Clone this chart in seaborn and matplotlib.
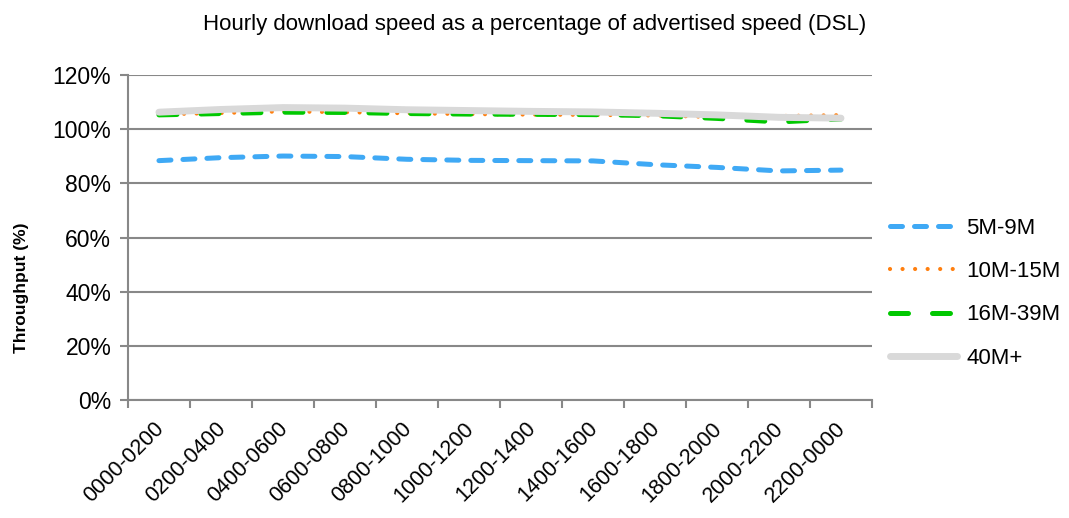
import pandas as pd
import matplotlib.pyplot as plt
import matplotlib.transforms as mtransforms
import seaborn as sns

# hourly periods and throughput (% of advertised speed)
periods = ["0000-0200", "0200-0400", "0400-0600", "0600-0800", "0800-1000", "1000-1200",
           "1200-1400", "1400-1600", "1600-1800", "1800-2000", "2000-2200", "2200-0000"]
s_5_9 = [88.4, 89.5, 90.1, 89.9, 88.9, 88.5, 88.4, 88.3, 86.9, 85.9, 84.6, 84.9]
s_10_15 = [105.5, 106.0, 106.6, 106.3, 105.9, 105.6, 105.4, 105.3, 105.1, 104.5, 104.9, 105.2]
s_16_39 = [105.3, 105.8, 106.3, 106.2, 105.8, 105.6, 105.5, 105.4, 105.0, 104.0, 102.7, 103.8]
s_40 = [106.3, 107.3, 108.0, 107.8, 107.2, 106.9, 106.6, 106.4, 105.9, 105.3, 104.4, 104.1]

names = ["5M-9M", "10M-15M", "16M-39M", "40M+"]
series = [s_5_9, s_10_15, s_16_39, s_40]

rows = []
for name, vals in zip(names, series):
    for p, v in zip(periods, vals):
        rows.append({"period": p, "speed": name, "value": v})
df = pd.DataFrame(rows)

plt.rcParams["font.family"] = ["Liberation Sans", "DejaVu Sans"]

colors = {"5M-9M": "#3fa9f5", "10M-15M": "#ff7f0e", "16M-39M": "#00c800", "40M+": "#d9d9d9"}
widths = {"5M-9M": 3.6, "10M-15M": 3.0, "16M-39M": 3.6, "40M+": 5.0}
dashes = {"5M-9M": (2.4, 2.4), "10M-15M": (0.01, 3.0), "16M-39M": (3.6, 4.8), "40M+": ""}
order_z = {"5M-9M": 2, "10M-15M": 3, "16M-39M": 4, "40M+": 5}

fig, ax = plt.subplots(figsize=(10.69, 5.18), dpi=100)
fig.subplots_adjust(left=0.1197, right=0.8157, bottom=0.228, top=0.855)

for name in names:
    sub = df[df["speed"] == name]
    sns.lineplot(data=sub, x="period", y="value", ax=ax, color=colors[name],
                 linewidth=widths[name], label=name, zorder=order_z[name], sort=False)

for line, name in zip(ax.get_lines(), names):
    if dashes[name]:
        line.set_dashes(dashes[name])
    line.set_dash_capstyle("round")
    line.set_solid_capstyle("round")

ax.set_xlim(-0.5, len(periods) - 0.5)
ax.set_ylim(0, 120)
ax.set_yticks(range(0, 121, 20))
ax.set_yticklabels([f"{v}%" for v in range(0, 121, 20)], fontsize=16.5)
ax.set_xticks([i - 0.5 for i in range(len(periods) + 1)])
ax.set_xticklabels([])
ax.set_xticks(range(len(periods)), minor=True)
ax.set_xticklabels(periods, minor=True, rotation=45, ha="right", rotation_mode="anchor",
                   fontsize=15.5)
ax.tick_params(axis="x", which="minor", length=0, pad=13)
ax.tick_params(axis="x", which="major", length=6, color="#888888", width=1.5)
ax.tick_params(axis="y", length=6, color="#888888", width=1.5, pad=6)

# nudge the rotated labels a little to the left
shift = mtransforms.ScaledTranslation(-6 / 100, 0, fig.dpi_scale_trans)
for lab in ax.get_xticklabels(minor=True):
    lab.set_transform(lab.get_transform() + shift)

ax.grid(axis="y", color="#888888", linewidth=1.5)
ax.set_axisbelow(True)
for side in ["top", "right"]:
    ax.spines[side].set_visible(False)
for side in ["left", "bottom"]:
    ax.spines[side].set_color("#888888")
    ax.spines[side].set_linewidth(1.5)

ax.set_xlabel("")
ax.set_ylabel("Throughput (%)", fontsize=12.5, fontweight="bold")
ax.yaxis.set_label_coords(-0.133, 0.345)
fig.suptitle("Hourly download speed as a percentage of advertised speed (DSL)",
             fontsize=16, x=0.5, y=0.952, va="center")

leg = ax.legend(loc="center left", bbox_to_anchor=(0.998, 0.328), frameon=False,
                handlelength=3.0, handletextpad=0.4, labelspacing=1.0,
                prop={"size": 16})
for h, name in zip(leg.get_lines(), names):
    h.set_dash_capstyle("round")
    h.set_solid_capstyle("round")

plt.savefig("out.png", dpi=100)
